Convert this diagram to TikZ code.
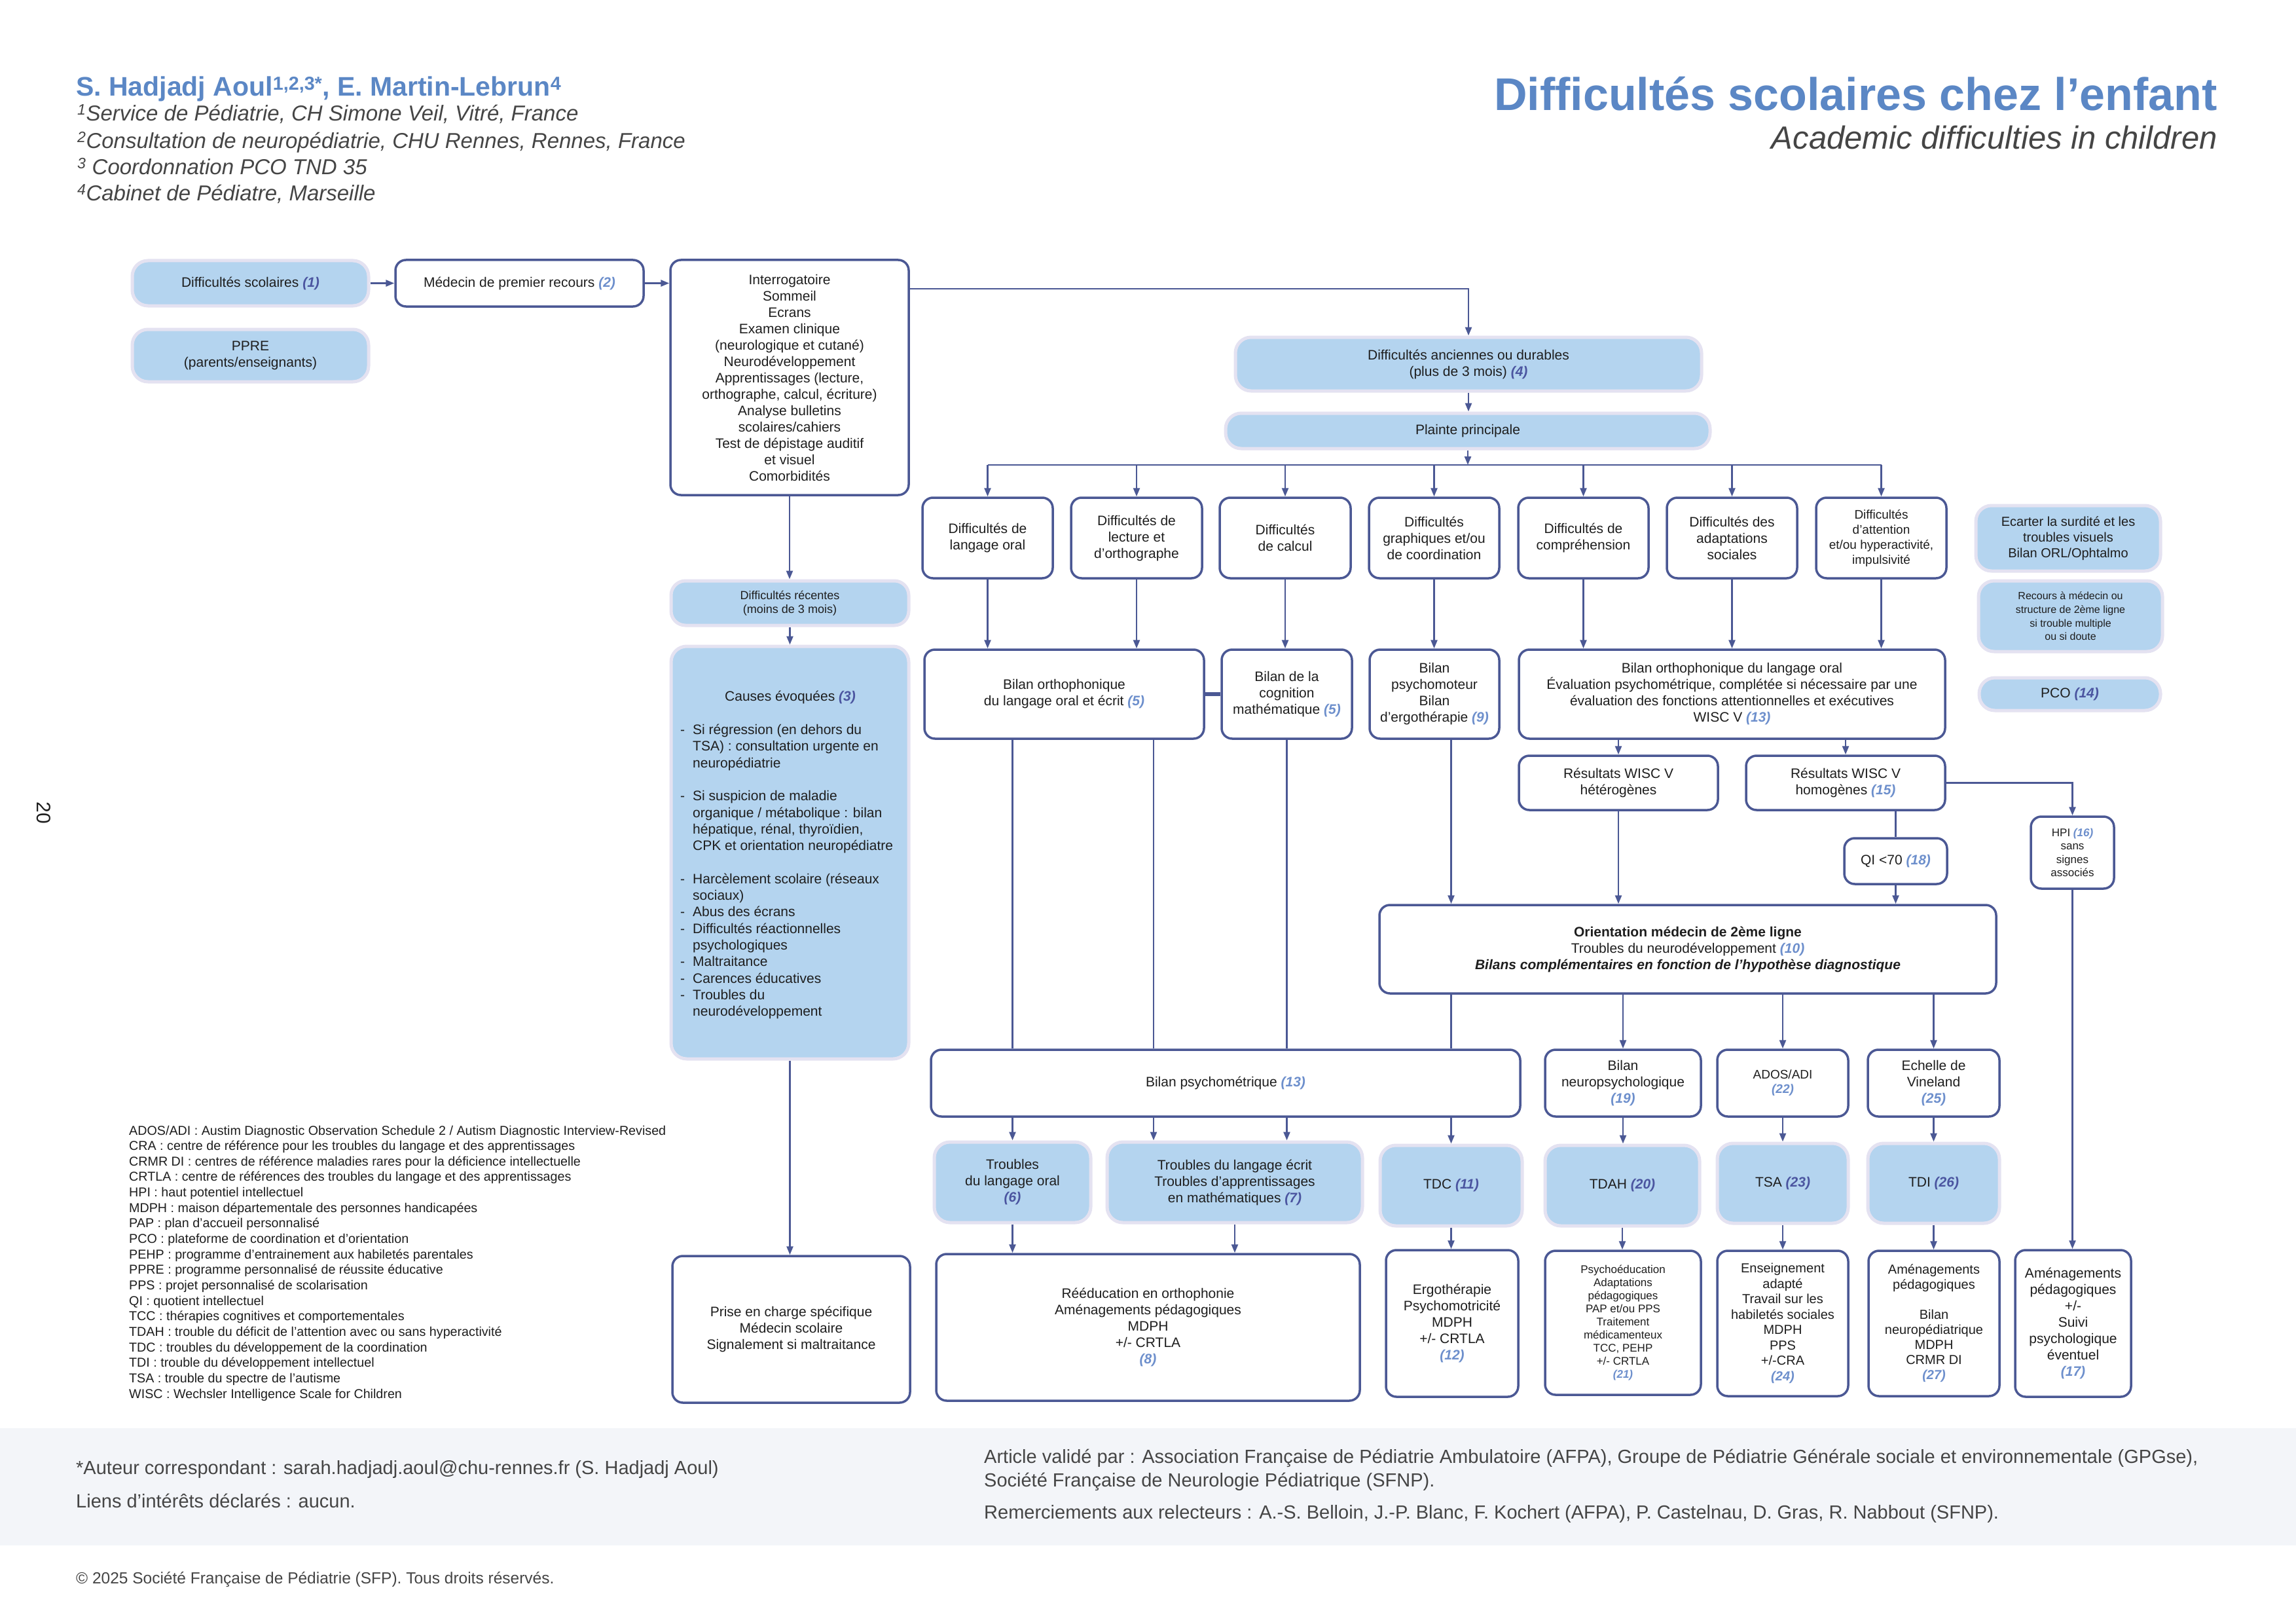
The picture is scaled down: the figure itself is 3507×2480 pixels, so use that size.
\documentclass[tikz,border=0pt]{standalone}
\usepackage{fontspec}
\setmainfont{Liberation Sans}
\usetikzlibrary{arrows.meta,calc}
\definecolor{navy}{HTML}{4B5894}
\definecolor{lblue}{HTML}{B4D4EF}
\definecolor{halo}{HTML}{E4E2F1}
\definecolor{hblue}{HTML}{5B87C5}
\definecolor{numL}{HTML}{6D8FCC}
\definecolor{numD}{HTML}{4B55A0}
\definecolor{txt}{HTML}{1E1E1E}
\definecolor{gtxt}{HTML}{454545}
\definecolor{footbg}{HTML}{F3F5F9}
\newcommand\fs[2]{\fontsize{#1}{#2}\selectfont}
\newcommand\nl[1]{{\color{numL}\bfseries\itshape(#1)}}
\newcommand\nd[1]{{\color{numD}\bfseries\itshape(#1)}}
\newcommand\dsh{\makebox[19pt][l]{-}}
\newcommand\ind{\hspace*{19pt}}
\newcommand\bx[7]{\node[#2, minimum width={#5-#3}, minimum height={#6-#4}] (#1) at ({(#3+#5)/2},{(#4+#6)/2}) {#7};}
\begin{document}
\begin{tikzpicture}[x=1pt,y=-1pt,
  wbox/.style={draw=navy, line width=3.5pt, rounded corners=16pt, fill=white, align=center, text=txt, inner sep=2pt, font=\fs{21}{25}},
  lbox/.style={draw=halo, line width=5pt, rounded corners=24pt, fill=lblue, align=center, text=txt, inner sep=2pt, font=\fs{21}{25}},
  conn/.style={draw=navy, line width=2.5pt},
  arr/.style={conn, -{Triangle[length=13pt,width=10pt]}},
  ttl/.style={inner sep=0pt, text=txt}]
\useasboundingbox (0,0) rectangle (3507,2480);
\fill[white] (0,0) rectangle (3507,2480);

% header
\node[ttl, anchor=base west, font=\fs{41}{46}\bfseries, text=hblue] (auth) at (116,147) {S. Hadjadj Aoul\textsuperscript{1,2,3*}, E. Martin-Lebrun\textsuperscript{4}};
\node[ttl, anchor=base west, font=\fs{33}{40}\itshape, text=gtxt] (af1) at (118,185) {\textsuperscript{1}Service de Pédiatrie, CH Simone Veil, Vitré, France};
\node[ttl, anchor=base west, font=\fs{33}{40}\itshape, text=gtxt] (af2) at (118,227) {\textsuperscript{2}Consultation de neuropédiatrie, CHU Rennes, Rennes, France};
\node[ttl, anchor=base west, font=\fs{33}{40}\itshape, text=gtxt] (af3) at (118,267) {\textsuperscript{3} Coordonnation PCO TND 35};
\node[ttl, anchor=base west, font=\fs{33}{40}\itshape, text=gtxt] (af4) at (118,307) {\textsuperscript{4}Cabinet de Pédiatre, Marseille};
\node[ttl, anchor=base east, font=\fs{70}{80}\bfseries, text=hblue] (title) at (3387,169) {Difficultés scolaires chez l’enfant};
\node[ttl, anchor=base east, font=\fs{49}{56}\itshape, text=gtxt] (sub) at (3387,228) {Academic difficulties in children};
\node[ttl, rotate=-90, font=\fs{30}{30}] (pg) at (67,1241) {20};

% left column
\bx{ds}{lbox}{202}{398}{563}{467}{Difficultés scolaires \nd{1}}
\bx{ppre}{lbox}{202}{503}{563}{583}{PPRE\\(parents/enseignants)}
\bx{med}{wbox}{604}{397}{983}{468}{Médecin de premier recours \nl{2}}
\bx{int}{wbox}{1024}{397}{1388}{756}{Interrogatoire\\Sommeil\\Ecrans\\Examen clinique\\(neurologique et cutané)\\Neurodéveloppement\\Apprentissages (lecture,\\orthographe, calcul, écriture)\\Analyse bulletins\\scolaires/cahiers\\Test de dépistage auditif\\et visuel\\Comorbidités}
\bx{rec}{lbox, font=\fs{18}{20.5}, rounded corners=22pt}{1025}{887}{1388}{955}{Difficultés récentes\\(moins de 3 mois)}
\bx{cau}{lbox}{1025}{987}{1388}{1617}{}
\node[ttl, font=\fs{21}{25.3}, anchor=base] (cauT) at (1207,1070) {Causes évoquées \nd{3}};
\node[ttl, font=\fs{21}{25.3}, anchor=north west, align=left] (cauL) at (1039,1106) {\dsh Si régression (en dehors du\\
\ind TSA) : consultation urgente en\\
\ind neuropédiatrie\\[25.3pt]
\dsh Si suspicion de maladie\\
\ind organique / métabolique : bilan\\
\ind hépatique, rénal, thyroïdien,\\
\ind CPK et orientation neuropédiatre\\[25.3pt]
\dsh Harcèlement scolaire (réseaux\\
\ind sociaux)\\
\dsh Abus des écrans\\
\dsh Difficultés réactionnelles\\
\ind psychologiques\\
\dsh Maltraitance\\
\dsh Carences éducatives\\
\dsh Troubles du\\
\ind neurodéveloppement};
\bx{pri}{wbox}{1027}{1918}{1390}{2142}{Prise en charge spécifique\\Médecin scolaire\\Signalement si maltraitance}

% top middle
\bx{anc}{lbox}{1887}{515}{2599}{597}{Difficultés anciennes ou durables\\(plus de 3 mois) \nd{4}}
\bx{pl}{lbox}{1872}{631}{2612}{685}{Plainte principale}
\bx{d1}{wbox}{1409}{760}{1608}{883}{Difficultés de\\langage oral}
\bx{d2}{wbox}{1636}{760}{1836}{883}{Difficultés de\\lecture et\\d’orthographe}
\bx{d3}{wbox}{1863}{760}{2063}{883}{Difficultés\\de calcul}
\bx{d4}{wbox}{2091}{760}{2290}{883}{Difficultés\\graphiques et/ou\\de coordination}
\bx{d5}{wbox}{2319}{760}{2518}{883}{Difficultés de\\compréhension}
\bx{d6}{wbox}{2546}{760}{2745}{883}{Difficultés des\\adaptations\\sociales}
\bx{d7}{wbox, font=\fs{19}{23}}{2774}{760}{2973}{883}{Difficultés\\d’attention\\et/ou hyperactivité,\\impulsivité}

% right column
\bx{eca}{lbox, font=\fs{20}{24}}{3018}{772}{3300}{872}{Ecarter la surdité et les\\troubles visuels\\Bilan ORL/Ophtalmo}
\bx{rco}{lbox, font=\fs{16}{20.7}}{3022}{887}{3303}{995}{Recours à médecin ou\\structure de 2ème ligne\\si trouble multiple\\ou si doute}
\bx{pco}{lbox}{3023}{1035}{3300}{1085}{PCO \nd{14}}

% bilans
\bx{bo5}{wbox}{1412}{992}{1839}{1128}{Bilan orthophonique\\du langage oral et écrit \nl{5}}
\bx{cog}{wbox}{1866}{992}{2065}{1128}{Bilan de la\\cognition\\mathématique \nl{5}}
\bx{pm}{wbox}{2092}{992}{2290}{1128}{Bilan\\psychomoteur\\Bilan\\d’ergothérapie \nl{9}}
\bx{bw}{wbox}{2320}{992}{2971}{1128}{Bilan orthophonique du langage oral\\Évaluation psychométrique, complétée si nécessaire par une\\évaluation des fonctions attentionnelles et exécutives\\WISC V \nl{13}}
\bx{het}{wbox}{2320}{1154}{2624}{1237}{Résultats WISC V\\hétérogènes}
\bx{hom}{wbox}{2667}{1154}{2971}{1237}{Résultats WISC V\\homogènes \nl{15}}
\bx{qi}{wbox}{2817}{1280}{2974}{1350}{QI <70 \nl{18}}
\bx{hpi}{wbox, font=\fs{17}{20.5}}{3102}{1247}{3229}{1357}{HPI \nl{16}\\sans\\signes\\associés}
\bx{ori}{wbox}{2107}{1382}{3049}{1517}{\textbf{Orientation médecin de 2ème ligne}\\Troubles du neurodéveloppement \nl{10}\\\textbf{\textit{Bilans complémentaires en fonction de l'hypothèse diagnostique}}}
\bx{psy}{wbox}{1422}{1603}{2322}{1705}{Bilan psychométrique \nl{13}}
\bx{neu}{wbox}{2360}{1603}{2598}{1705}{Bilan\\neuropsychologique\\\nl{19}}
\bx{ados}{wbox, font=\fs{19}{22}}{2623}{1603}{2823}{1705}{ADOS/ADI\\\nl{22}}
\bx{ech}{wbox}{2853}{1603}{3054}{1705}{Echelle de\\Vineland\\\nl{25}}

% diagnoses
\bx{to6}{lbox}{1427}{1744}{1666}{1867}{Troubles\\du langage oral\\\nd{6}}
\bx{te7}{lbox}{1691}{1744}{2081}{1867}{Troubles du langage écrit\\Troubles d’apprentissages\\en mathématiques \nd{7}}
\bx{tdc}{lbox}{2108}{1749}{2325}{1872}{TDC \nd{11}}
\bx{tdah}{lbox}{2360}{1749}{2596}{1872}{TDAH \nd{20}}
\bx{tsa}{lbox}{2623}{1746}{2823}{1868}{TSA \nd{23}}
\bx{tdi}{lbox}{2853}{1746}{3054}{1868}{TDI \nd{26}}

% prises en charge
\bx{ree}{wbox}{1430}{1915}{2077}{2139}{Rééducation en orthophonie\\Aménagements pédagogiques\\MDPH\\+/- CRTLA\\\nl{8}}
\bx{erg}{wbox}{2117}{1909}{2319}{2133}{Ergothérapie\\Psychomotricité\\MDPH\\+/- CRTLA\\\nl{12}}
\bx{pse}{wbox, font=\fs{17}{20}}{2360}{1910}{2598}{2130}{Psychoéducation\\Adaptations\\pédagogiques\\PAP et/ou PPS\\Traitement\\médicamenteux\\TCC, PEHP\\+/- CRTLA\\\nl{21}}
\bx{ens}{wbox, font=\fs{20}{23.5}}{2623}{1910}{2823}{2132}{Enseignement\\adapté\\Travail sur les\\habiletés sociales\\MDPH\\PPS\\+/-CRA\\\nl{24}}
\bx{am27}{wbox, font=\fs{20}{23}}{2854}{1910}{3054}{2132}{Aménagements\\pédagogiques\\[23pt]Bilan\\neuropédiatrique\\MDPH\\CRMR DI\\\nl{27}}
\bx{am17}{wbox}{3078}{1909}{3255}{2133}{Aménagements\\pédagogiques\\+/-\\Suivi\\psychologique\\éventuel\\\nl{17}}

% connectors
\coordinate (j1) at (2243,441);
\coordinate (bus) at (2242,710);
\coordinate (cB) at (1762,0);
\draw[arr] (ds) -- (med);
\draw[arr] (med) -- (med -| int.west);
\draw[arr] (int.east |- j1) -- (j1) -- (anc.north);
\draw[arr] (int.south) -- (int.south |- rec.north);
\draw[arr] (rec.south) -- (rec.south |- cau.north);
\draw[arr] (cau.south) -- (cau.south |- pri.north);
\draw[arr] (anc.south) -- (anc.south |- pl.north);
\draw[arr] (pl.south) -- (pl.south |- bus);
\draw[conn] (bus -| d1) -- (bus -| d7);
\foreach \d in {d1,d2,d3,d4,d5,d6,d7} \draw[arr] (bus -| \d) -- (\d.north);
\draw[arr] (d1.south) -- (d1.south |- bo5.north);
\draw[arr] (d2.south) -- (d2.south |- bo5.north);
\draw[arr] (d3.south) -- (d3.south |- cog.north);
\draw[arr] (d4.south) -- (d4.south |- pm.north);
\draw[arr] (d5.south) -- (d5.south |- bw.north);
\draw[arr] (d6.south) -- (d6.south |- bw.north);
\draw[arr] (d7.south) -- (d7.south |- bw.north);
\draw[navy, line width=6pt] (bo5.east) -- (cog.west);
\draw[conn] (bo5.south -| to6) -- (psy.north -| to6);
\draw[conn] (bo5.south -| cB) -- (psy.north -| cB);
\draw[conn] (cog.south) -- (cog.south |- psy.north);
\draw[arr] (pm.south -| tdc) -- (ori.north -| tdc);
\draw[conn] (ori.south -| tdc) -- (psy.north -| tdc);
\draw[arr] (bw.south -| het) -- (het.north);
\draw[arr] (bw.south -| hom) -- (hom.north);
\draw[arr] (het.south) -- (het.south |- ori.north);
\draw[conn] (hom.south -| qi) -- (qi.north);
\draw[arr] (qi.south) -- (qi.south |- ori.north);
\draw[arr] (hom.east) -| (hpi.north);
\draw[arr] (ori.south -| neu) -- (neu.north);
\draw[arr] (ori.south -| ados) -- (ados.north);
\draw[arr] (ori.south -| ech) -- (ech.north);
\draw[arr] (psy.south -| to6) -- (to6.north);
\draw[arr] (psy.south -| cB) -- (te7.north -| cB);
\draw[arr] (psy.south -| cog) -- (te7.north -| cog);
\draw[arr] (psy.south -| tdc) -- (tdc.north);
\draw[arr] (neu.south) -- (neu.south |- tdah.north);
\draw[arr] (ados.south) -- (ados.south |- tsa.north);
\draw[arr] (ech.south) -- (ech.south |- tdi.north);
\draw[arr] (to6.south) -- (to6.south |- ree.north);
\draw[arr] (te7.south) -- (te7.south |- ree.north);
\draw[arr] (tdc.south) -- (tdc.south |- erg.north);
\draw[arr] (tdah.south) -- (tdah.south |- pse.north);
\draw[arr] (tsa.south) -- (tsa.south |- ens.north);
\draw[arr] (tdi.south) -- (tdi.south |- am27.north);
\draw[arr] (hpi.south) -- (hpi.south |- am17.north);

% abbreviations
\foreach \t [count=\i] in {
 {ADOS/ADI : Austim Diagnostic Observation Schedule 2 / Autism Diagnostic Interview-Revised},
 {CRA : centre de référence pour les troubles du langage et des apprentissages},
 {CRMR DI : centres de référence maladies rares pour la déficience intellectuelle},
 {CRTLA : centre de références des troubles du langage et des apprentissages},
 {HPI : haut potentiel intellectuel},
 {MDPH : maison départementale des personnes handicapées},
 {PAP : plan d’accueil personnalisé},
 {PCO : plateforme de coordination et d’orientation},
 {PEHP : programme d’entrainement aux habiletés parentales},
 {PPRE : programme personnalisé de réussite éducative},
 {PPS : projet personnalisé de scolarisation},
 {QI : quotient intellectuel},
 {TCC : thérapies cognitives et comportementales},
 {TDAH : trouble du déficit de l’attention avec ou sans hyperactivité},
 {TDC : troubles du développement de la coordination},
 {TDI : trouble du développement intellectuel},
 {TSA : trouble du spectre de l’autisme},
 {WISC : Wechsler Intelligence Scale for Children}}
 \node[ttl, anchor=base west, font=\fs{19.7}{22}] (ab\i) at (197,{1733+(\i-1)*23.65}) {\t};

% footer
\fill[footbg] (0,2181) rectangle (3507,2360);
\node[ttl, anchor=base west, font=\fs{29}{32}, text=gtxt] (f1) at (116,2251) {*Auteur correspondant : sarah.hadjadj.aoul@chu-rennes.fr (S. Hadjadj Aoul)};
\node[ttl, anchor=base west, font=\fs{29}{32}, text=gtxt] (f2) at (116,2302) {Liens d’intérêts déclarés : aucun.};
\node[ttl, anchor=base west, font=\fs{29}{32}, text=gtxt] (f3) at (1503,2234) {Article validé par : Association Française de Pédiatrie Ambulatoire (AFPA), Groupe de Pédiatrie Générale sociale et environnementale (GPGse),};
\node[ttl, anchor=base west, font=\fs{29}{32}, text=gtxt] (f4) at (1503,2270) {Société Française de Neurologie Pédiatrique (SFNP).};
\node[ttl, anchor=base west, font=\fs{29}{32}, text=gtxt] (f5) at (1503,2319) {Remerciements aux relecteurs : A.-S. Belloin, J.-P. Blanc, F. Kochert (AFPA), P. Castelnau, D. Gras, R. Nabbout (SFNP).};
\node[ttl, anchor=base west, font=\fs{24.5}{28}, text=gtxt] (f6) at (116,2418) {© 2025 Société Française de Pédiatrie (SFP). Tous droits réservés.};
\end{tikzpicture}
\end{document}
